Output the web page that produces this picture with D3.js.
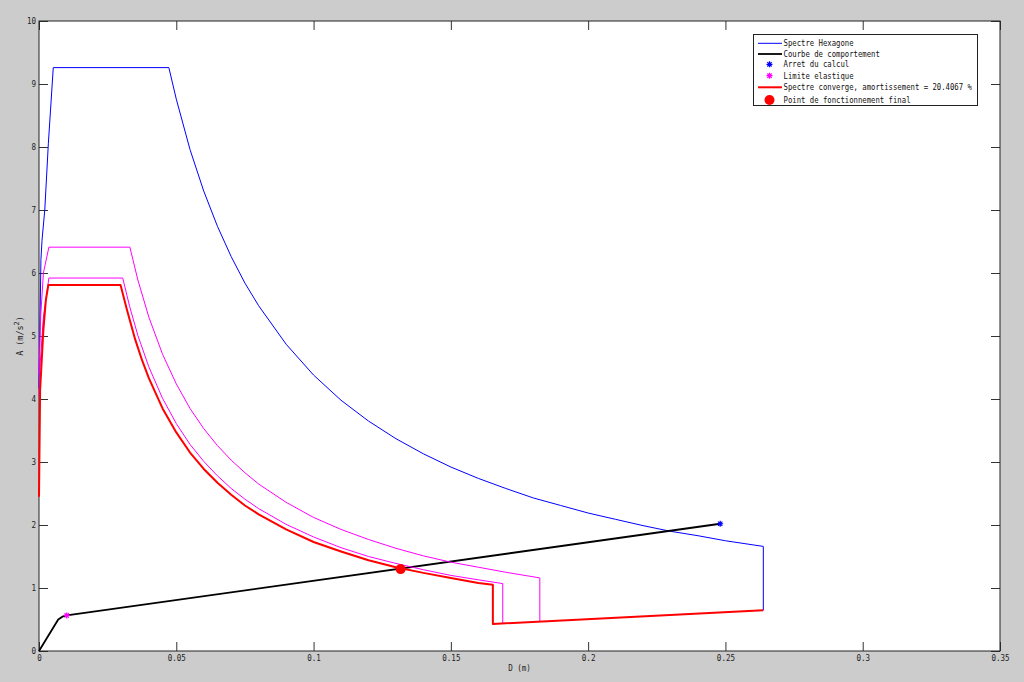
<!DOCTYPE html>
<html>
<head>
<meta charset="utf-8">
<script src="https://cdn.jsdelivr.net/npm/d3@7"></script>
<style>
  html, body { margin: 0; padding: 0; background: #cccccc; }
  svg { display: block; }
  text { font-family: "DejaVu Sans Mono", "Liberation Mono", monospace; }
</style>
</head>
<body>
<svg id="chart" width="1024" height="682"></svg>
<script>
// ---- Data ----
// Spectre Hexagone (blue)
const blueD = [0, 0.0007, 0.0011, 0.0021, 0.0034, 0.0052, 0.0473, 0.05, 0.055, 0.06, 0.065, 0.07, 0.075, 0.08, 0.09, 0.10, 0.11, 0.12, 0.13, 0.14, 0.15, 0.16, 0.17, 0.18, 0.19, 0.20, 0.21, 0.22, 0.23, 0.24, 0.25, 0.2638, 0.2638];
const blueA = [4.17, 6.21, 6.52, 7.00, 8.05, 9.26, 9.26, 8.76, 7.96, 7.30, 6.74, 6.26, 5.84, 5.48, 4.87, 4.38, 3.98, 3.65, 3.37, 3.13, 2.92, 2.74, 2.58, 2.43, 2.31, 2.19, 2.09, 1.99, 1.90, 1.83, 1.75, 1.66, 0.646];
// Limite elastique spectra (magenta) - outer
const pink1D = [0, 0.0006, 0.0016, 0.0036, 0.0331, 0.036, 0.04, 0.045, 0.05, 0.055, 0.06, 0.065, 0.07, 0.075, 0.08, 0.09, 0.10, 0.11, 0.12, 0.13, 0.14, 0.15, 0.16, 0.17, 0.1824, 0.1824];
const pink1A = [4.40, 5.30, 6.00, 6.41, 6.41, 5.89, 5.30, 4.71, 4.24, 3.85, 3.53, 3.26, 3.03, 2.83, 2.65, 2.36, 2.12, 1.93, 1.77, 1.63, 1.51, 1.41, 1.33, 1.25, 1.16, 0.47];
// inner
const pink2D = [0, 0.0005, 0.0016, 0.0036, 0.0305, 0.033, 0.036, 0.04, 0.045, 0.05, 0.055, 0.06, 0.065, 0.07, 0.075, 0.08, 0.09, 0.10, 0.11, 0.12, 0.13, 0.14, 0.15, 0.16, 0.1689, 0.1689];
const pink2A = [4.05, 4.60, 5.30, 5.92, 5.92, 5.47, 5.01, 4.51, 4.01, 3.61, 3.28, 3.01, 2.78, 2.58, 2.41, 2.26, 2.01, 1.81, 1.64, 1.50, 1.39, 1.29, 1.20, 1.13, 1.07, 0.438];
// Spectre converge (red)
const redD = [0, 0.0004, 0.0016, 0.0025, 0.0034, 0.0297, 0.032, 0.035, 0.0375, 0.04, 0.045, 0.05, 0.055, 0.06, 0.065, 0.07, 0.075, 0.08, 0.09, 0.10, 0.11, 0.12, 0.13, 0.14, 0.15, 0.16, 0.1653, 0.1653, 0.2638];
const redA = [2.45, 4.14, 5.10, 5.57, 5.81, 5.81, 5.42, 4.95, 4.62, 4.33, 3.85, 3.47, 3.15, 2.89, 2.67, 2.48, 2.31, 2.17, 1.93, 1.73, 1.58, 1.44, 1.33, 1.24, 1.16, 1.08, 1.05, 0.43, 0.646];
// Courbe de comportement (black)
const capD = [0, 0.0070, 0.0085, 0.0101, 0.2481];
const capA = [0, 0.50, 0.545, 0.565, 2.02];
// markers
const stopPoint = [0.2481, 2.02];      // Arret du calcul
const elasticPoint = [0.0101, 0.565];  // Limite elastique
const finalPoint = [0.1317, 1.30];     // Point de fonctionnement final

const xTicks = [0, 0.05, 0.1, 0.15, 0.2, 0.25, 0.3, 0.35];
const xTickLabels = ["0", "0.05", "0.1", "0.15", "0.2", "0.25", "0.3", "0.35"];
const yTicks = [0, 1, 2, 3, 4, 5, 6, 7, 8, 9, 10];
const yTickLabels = ["0", "1", "2", "3", "4", "5", "6", "7", "8", "9", "10"];

const legendLabels = [
  "Spectre Hexagone",
  "Courbe de comportement",
  "Arret du calcul",
  "Limite elastique",
  "Spectre converge, amortissement = 20.4067 %",
  "Point de fonctionnement final"
];

// ---- Layout ----
const L = 39, R = 1000, T = 21, B = 651;
const svg = d3.select("#chart");
const x = d3.scaleLinear().domain([0, 0.35]).range([L, R]);
const y = d3.scaleLinear().domain([0, 10]).range([B, T]);

svg.append("rect").attr("x", 0).attr("y", 0).attr("width", 1024).attr("height", 682).attr("fill", "#cccccc");
svg.append("rect").attr("x", L).attr("y", T).attr("width", R - L).attr("height", B - T).attr("fill", "#ffffff");

const fs = 8.4;
const cw = 4.55;
function fitText(sel) {
  sel.each(function () {
    const t = d3.select(this).text();
    if (t.length > 0) d3.select(this).attr("textLength", t.length * cw).attr("lengthAdjust", "spacingAndGlyphs");
  });
}
function styleAxis(g) {
  g.select(".domain").remove();
  g.selectAll(".tick line").attr("stroke", "#333").attr("stroke-width", 1);
  g.selectAll(".tick text").attr("fill", "#222").attr("font-size", fs).attr("font-family", "DejaVu Sans Mono, monospace").call(fitText);
}
svg.append("g").attr("transform", `translate(0,${B})`)
  .call(d3.axisBottom(x).tickValues(xTicks).tickFormat((d, i) => xTickLabels[i]).tickSizeInner(-9).tickSizeOuter(0).tickPadding(4))
  .call(styleAxis);
svg.append("g").attr("transform", `translate(0,${T})`)
  .call(d3.axisTop(x).tickValues(xTicks).tickFormat("").tickSizeInner(-9).tickSizeOuter(0))
  .call(styleAxis);
svg.append("g").attr("transform", `translate(${L},0)`)
  .call(d3.axisLeft(y).tickValues(yTicks).tickFormat((d, i) => yTickLabels[i]).tickSizeInner(-9).tickSizeOuter(0).tickPadding(3))
  .call(styleAxis);
svg.append("g").attr("transform", `translate(${R},0)`)
  .call(d3.axisRight(y).tickValues(yTicks).tickFormat("").tickSizeInner(-9).tickSizeOuter(0))
  .call(styleAxis);

// box
svg.append("rect").attr("x", L).attr("y", T).attr("width", R - L).attr("height", B - T)
  .attr("fill", "none").attr("stroke", "#222").attr("stroke-width", 1);

const line = d3.line().x(d => x(d[0])).y(d => y(d[1]));
const zip = (a, b) => a.map((v, i) => [v, b[i]]);
const plot = svg.append("g");

function drawLine(data, color, w) {
  plot.append("path").datum(data).attr("d", line).attr("fill", "none")
    .attr("stroke", color).attr("stroke-width", w).attr("stroke-linejoin", "round");
}
drawLine(zip(blueD, blueA), "#0000ff", 1);
drawLine(zip(capD, capA), "#000000", 1.8);
drawLine(zip(pink1D, pink1A), "#ff00ff", 1);
drawLine(zip(pink2D, pink2A), "#ff00ff", 1);
drawLine(zip(redD, redA), "#ff0000", 2);

function starPath(cx, cy, r) {
  const d = r * 0.72;
  return `M${cx - r},${cy}L${cx + r},${cy}M${cx},${cy - r}L${cx},${cy + r}` +
         `M${cx - d},${cy - d}L${cx + d},${cy + d}M${cx - d},${cy + d}L${cx + d},${cy - d}`;
}
plot.append("path").attr("d", starPath(x(stopPoint[0]), y(stopPoint[1]), 3)).attr("stroke", "#0000ff").attr("stroke-width", 1.2).attr("fill", "none");
plot.append("path").attr("d", starPath(x(elasticPoint[0]), y(elasticPoint[1]), 3)).attr("stroke", "#ff00ff").attr("stroke-width", 1.2).attr("fill", "none");
plot.append("circle").attr("cx", x(finalPoint[0])).attr("cy", y(finalPoint[1])).attr("r", 5).attr("fill", "#ff0000");

// axis labels
svg.append("text").attr("x", (L + R) / 2).attr("y", 671).attr("text-anchor", "middle")
  .attr("font-size", fs).attr("fill", "#222").text("D (m)").call(fitText);
const yl = svg.append("text").attr("transform", `translate(23,${(T + B) / 2}) rotate(-90)`)
  .attr("text-anchor", "middle").attr("font-size", fs).attr("fill", "#222");
yl.append("tspan").text("A (m/s");
yl.append("tspan").attr("dy", -4).attr("font-size", 7).text("2");
yl.append("tspan").attr("dy", 4).text(")");

// legend
const lg = svg.append("g");
lg.append("rect").attr("x", 753.5).attr("y", 34.5).attr("width", 224).attr("height", 71)
  .attr("fill", "#ffffff").attr("stroke", "#222").attr("stroke-width", 1);
const rowY = [43.3, 54, 64.3, 75.7, 87.3, 100];
const lx0 = 758, lx1 = 782, mx = 769.5, tx = 783.5;
lg.append("line").attr("x1", lx0).attr("x2", lx1).attr("y1", rowY[0]).attr("y2", rowY[0]).attr("stroke", "#0000ff").attr("stroke-width", 1);
lg.append("line").attr("x1", lx0).attr("x2", lx1).attr("y1", rowY[1]).attr("y2", rowY[1]).attr("stroke", "#000").attr("stroke-width", 1.8);
lg.append("path").attr("d", starPath(mx, rowY[2], 3)).attr("stroke", "#0000ff").attr("stroke-width", 1.2);
lg.append("path").attr("d", starPath(mx, rowY[3], 3)).attr("stroke", "#ff00ff").attr("stroke-width", 1.2);
lg.append("line").attr("x1", lx0).attr("x2", lx1).attr("y1", rowY[4]).attr("y2", rowY[4]).attr("stroke", "#ff0000").attr("stroke-width", 2);
lg.append("circle").attr("cx", mx).attr("cy", rowY[5]).attr("r", 5).attr("fill", "#ff0000");
lg.selectAll("text.lab").data(legendLabels).enter().append("text")
  .attr("x", tx).attr("y", (d, i) => rowY[i] + 3)
  .attr("font-size", fs).attr("fill", "#111").text(d => d)
  .each(function (d) { d3.select(this).attr("textLength", d.length * 4.38).attr("lengthAdjust", "spacingAndGlyphs"); });
</script>
</body>
</html>
